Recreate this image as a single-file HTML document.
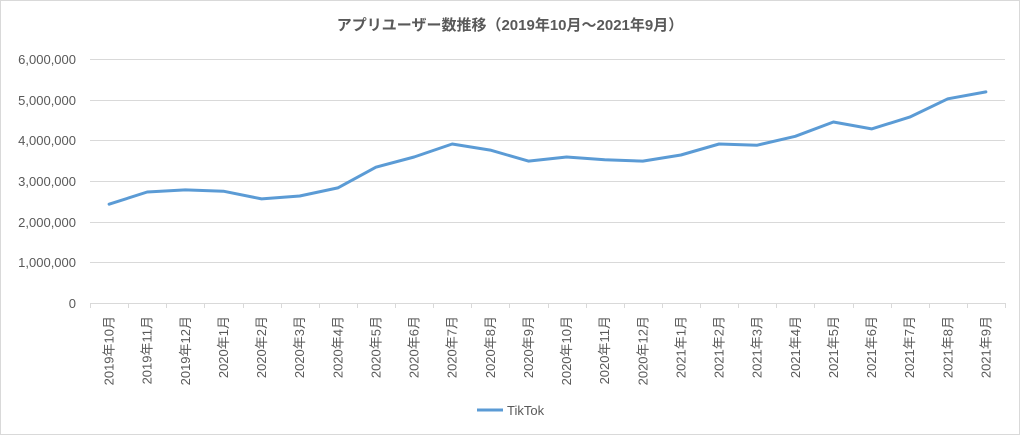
<!DOCTYPE html>
<html><head><meta charset="utf-8"><style>
html,body{margin:0;padding:0;background:#fff}
svg{display:block}
text{font-family:"Liberation Sans","Noto Sans CJK JP",sans-serif;fill:#595959}
</style></head><body>
<svg width="1020" height="435" xmlns="http://www.w3.org/2000/svg">
<rect x="0.5" y="0.5" width="1019" height="434" fill="#fff" stroke="#d9d9d9"/>
<text x="510" y="30" text-anchor="middle" font-size="15" font-weight="bold">アプリユーザー数推移（2019年10月～2021年9月）</text>
<g stroke="#d9d9d9" stroke-width="1">
<line x1="90" y1="59.5" x2="1005" y2="59.5"/>
<line x1="90" y1="100.5" x2="1005" y2="100.5"/>
<line x1="90" y1="140.5" x2="1005" y2="140.5"/>
<line x1="90" y1="181.5" x2="1005" y2="181.5"/>
<line x1="90" y1="222.5" x2="1005" y2="222.5"/>
<line x1="90" y1="262.5" x2="1005" y2="262.5"/>
<line x1="90" y1="303.5" x2="1005" y2="303.5"/>
</g>
<g font-size="13" text-anchor="end">
<text x="76" y="64">6,000,000</text>
<text x="76" y="105">5,000,000</text>
<text x="76" y="145">4,000,000</text>
<text x="76" y="186">3,000,000</text>
<text x="76" y="227">2,000,000</text>
<text x="76" y="267">1,000,000</text>
<text x="76" y="308">0</text>
</g>
<g id="ticks" stroke="#d9d9d9"></g>
<g id="labels" font-size="13"></g>
<polyline id="line" fill="none" stroke="#5b9bd5" stroke-width="3" stroke-linejoin="round" stroke-linecap="round"/>
<line x1="477" y1="410" x2="503" y2="410" stroke="#5b9bd5" stroke-width="3"/>
<text x="507" y="415" font-size="13">TikTok</text>
<script>
var vals=[2.43,2.73,2.78,2.75,2.56,2.63,2.83,3.34,3.59,3.91,3.76,3.49,3.59,3.52,3.49,3.64,3.91,3.88,4.1,4.45,4.28,4.57,5.02,5.19];
var labs=[];labs.push("2019年10月","2019年11月","2019年12月");
for(var m=1;m<=12;m++)labs.push("2020年"+m+"月");
for(var m=1;m<=9;m++)labs.push("2021年"+m+"月");
var ns="http://www.w3.org/2000/svg",w=915/24,pts=[];
var tk=document.getElementById("ticks"),lb=document.getElementById("labels");
for(var i=0;i<=24;i++){var x=Math.round(90+w*i)+0.5;var l=document.createElementNS(ns,"line");
l.setAttribute("x1",x);l.setAttribute("x2",x);l.setAttribute("y1",303);l.setAttribute("y2",308);tk.appendChild(l);}
for(var i=0;i<24;i++){var cx=90+w*(i+0.5);pts.push(cx.toFixed(1)+","+(303-vals[i]*40.67).toFixed(1));
var t=document.createElementNS(ns,"text");t.setAttribute("transform","translate("+(cx+4.5)+",316) rotate(-90)");
t.setAttribute("text-anchor","end");t.textContent=labs[i];lb.appendChild(t);}
document.getElementById("line").setAttribute("points",pts.join(" "));
</script>
</svg>
</body></html>
